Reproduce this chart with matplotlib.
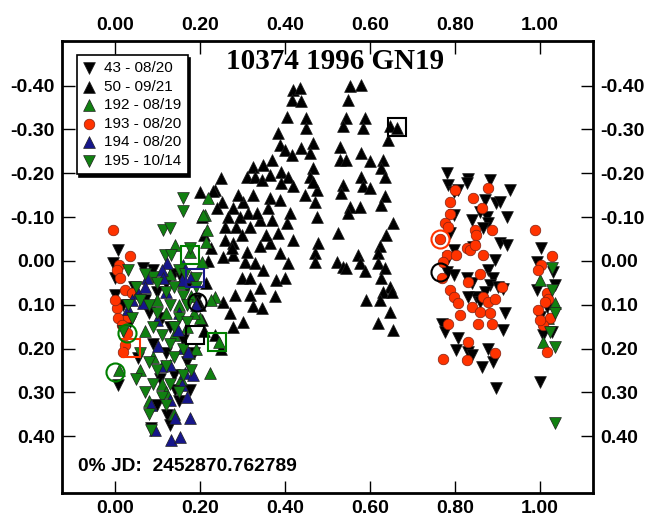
import numpy as np
import matplotlib.pyplot as plt
from matplotlib.ticker import FixedLocator, FormatStrFormatter

# session 43 - 08/20 (black, down triangles)
ph43 = [0.781, 0.832, 0.883, 0.930, 0.785, 0.797, 0.808, 0.828, 0.871, 0.898, 0.906, 0.859,
        0.875, 0.922, 0.879, 0.840, 0.867, 0.797, 0.789, 0.906, 0.922, 0.797, 0.785, 0.844,
        0.895, 0.879, 0.781, 0.797, 0.828, 0.840, 0.891, 0.883, 0.871, 0.902, 0.851, 0.859,
        0.832, 0.914, 0.918, 0.914, 0.769, 0.777, 0.808, 0.804, 0.832, 0.840, 0.879, 0.891,
        0.863, 0.898, 1.000, 1.004, 0.993, 1.032, 0.993, 1.036, 1.016, 1.000, 1.028, 1.008,
        0.008, -0.004, 0.000, 0.000, 0.020, 0.067, 0.090, 0.045, 0.070, 0.100, 0.120, 0.140,
        0.155, 0.170, 0.190, 0.080, 0.110, 0.130, 0.055, 0.090, 0.160, 0.140, 0.177, 0.141,
        0.150, 0.008, 0.122, 0.129, 0.086, 0.100, 0.170, 0.185, 0.035, 0.120, 0.105]
mag43 = [-0.200, -0.188, -0.185, -0.162, -0.173, -0.158, -0.162, -0.177, -0.139, -0.131, -0.135, -0.112,
         -0.101, -0.101, -0.086, -0.093, -0.074, -0.105, -0.063, -0.040, -0.036, -0.025, -0.006, -0.032,
         -0.002, 0.021, 0.025, 0.032, 0.040, 0.051, 0.040, 0.055, 0.070, 0.059, 0.082, 0.093,
         0.082, 0.063, 0.120, 0.158, 0.143, 0.162, 0.177, 0.204, 0.207, 0.215, 0.200, 0.230,
         0.242, 0.291, 0.276, -0.029, 0.002, 0.025, 0.067, 0.055, 0.105, 0.128, 0.162, 0.169,
         -0.025, 0.005, 0.040, 0.077, 0.100, 0.017, 0.020, 0.060, 0.090, 0.070, 0.050, 0.030,
         0.040, 0.060, 0.090, 0.120, 0.130, 0.150, 0.222, 0.190, 0.180, 0.260, 0.294, 0.294,
         0.320, 0.283, 0.351, 0.374, 0.382, 0.330, 0.230, 0.210, 0.140, 0.210, 0.270]

# session 50 - 09/21 (black, up triangles)
ph50 = [0.420, 0.435, 0.416, 0.439, 0.404, 0.449, 0.449, 0.384, 0.388, 0.400, 0.416, 0.439,
        0.467, 0.459, 0.467, 0.459, 0.325, 0.349, 0.369, 0.310, 0.329, 0.345, 0.365, 0.392,
        0.408, 0.392, 0.420, 0.249, 0.235, 0.251, 0.325, 0.302, 0.278, 0.267, 0.294, 0.314,
        0.365, 0.388, 0.361, 0.341, 0.369, 0.412, 0.404, 0.384, 0.365, 0.341, 0.318, 0.286,
        0.259, 0.259, 0.278, 0.255, 0.278, 0.306, 0.329, 0.349, 0.298, 0.318, 0.388, 0.420,
        0.408, 0.380, 0.400, 0.376, 0.341, 0.282, 0.318, 0.325, 0.345, 0.255, 0.271, 0.278,
        0.302, 0.475, 0.471, 0.475, 0.467, 0.478, 0.471, 0.471, 0.447,
        0.553, 0.580, 0.549, 0.545, 0.537, 0.588, 0.584, 0.529, 0.529, 0.545, 0.580, 0.600,
        0.631, 0.627, 0.635, 0.580, 0.584, 0.600, 0.537, 0.533, 0.553, 0.576, 0.549, 0.635,
        0.627, 0.655, 0.639, 0.624, 0.620, 0.525, 0.522, 0.537, 0.545, 0.573, 0.576, 0.588,
        0.620, 0.635, 0.627, 0.647, 0.631, 0.651, 0.592, 0.624, 0.647, 0.620, 0.655,
        0.647, 0.663, 0.643,
        0.205, 0.210, 0.200, 0.215, 0.220, 0.225, 0.210, 0.205, 0.200, 0.230, 0.240, 0.250,
        0.235, 0.193, 0.300, 0.335, 0.355, 0.290, 0.310, 0.275]
mag50 = [-0.390, -0.394, -0.368, -0.364, -0.329, -0.326, -0.303, -0.291, -0.265, -0.253, -0.242, -0.257,
         -0.269, -0.246, -0.212, -0.192, -0.215, -0.219, -0.231, -0.192, -0.192, -0.185, -0.196, -0.204,
         -0.192, -0.177, -0.170, -0.189, -0.162, -0.135, -0.151, -0.135, -0.120, -0.101, -0.101, -0.109,
         -0.143, -0.139, -0.120, -0.094, -0.094, -0.109, -0.086, -0.063, -0.040, -0.033, -0.078, -0.078,
         -0.078, -0.048, -0.040, -0.010, -0.014, 0.002, 0.005, 0.021, 0.040, 0.040, -0.017, -0.048,
         0.005, 0.043, 0.040, 0.081, 0.062, 0.078, 0.078, 0.104, 0.108, 0.093, 0.120, 0.150,
         0.139, -0.101, -0.135, -0.162, -0.181, -0.040, -0.017, 0.002, -0.151,
         -0.398, -0.402, -0.368, -0.326, -0.307, -0.326, -0.303, -0.261, -0.231, -0.231, -0.246, -0.227,
         -0.231, -0.212, -0.192, -0.192, -0.170, -0.166, -0.173, -0.154, -0.124, -0.124, -0.109, -0.147,
         -0.128, -0.086, -0.059, -0.033, -0.017, -0.063, 0.002, 0.013, 0.017, -0.014, 0.005, 0.024,
         0.005, 0.017, 0.040, 0.059, 0.070, 0.070, 0.089, 0.089, 0.116, 0.142, 0.158,
         -0.307, -0.303, -0.276,
         0.135, 0.160, 0.100, 0.050, 0.000, -0.030, -0.060, -0.100, -0.158, -0.160, -0.120, 0.200,
         0.170, 0.094, -0.060, -0.110, -0.060, -0.150, -0.020, -0.030]

# session 192 - 08/19 (green, up triangles)
ph192 = [0.220, 0.212, 0.217, 0.214, 0.204, 0.235, 0.227, 0.208, 0.141, 0.010, 0.245, 0.130,
         0.160, 0.100, 0.120, 0.150, 0.180, 0.070, 0.090, 0.140, 0.170, 0.060, 0.200, 0.185,
         0.110, 0.155, 0.175, 0.080, 0.120, 0.140, 0.190, 0.224, 0.176,
         1.000, 1.008, 1.036, 1.020]
mag192 = [-0.143, -0.105, -0.071, -0.044, 0.002, 0.082, 0.089, -0.105, -0.037, 0.250, 0.185, 0.030,
          0.050, 0.090, 0.120, 0.100, 0.080, 0.160, 0.220, 0.170, 0.150, 0.250, 0.130, 0.120,
          0.280, 0.270, 0.210, 0.320, 0.300, 0.350, 0.200, 0.256, -0.020,
          0.044, 0.185, 0.097, 0.130]

# session 193 - 08/20 (red circles)
ph193 = [0.800, 0.789, 0.844, 0.879, 0.863, 0.789, 0.777, 0.785, 0.847, 0.851, 0.887, 0.765,
         0.781, 0.773, 0.804, 0.828, 0.836, 0.847, 0.867, 0.769, 0.859, 0.832, 0.789, 0.797,
         0.808, 0.840, 0.867, 0.879, 0.895, 0.859, 0.883, 0.855, 0.887, 0.812, 0.785, 0.910,
         0.832, 0.895, 0.773, 0.828,
         0.989, 1.028, 1.004, 0.997, 1.016, 1.020, 1.012, 0.997, 1.024, 1.008, 1.016, 1.000,
         -0.004, 0.035, 0.009, 0.004, 0.024, 0.040, 0.004, 0.008, 0.031, 0.016, 0.024, 0.020,
         0.028, 0.012, 0.000]
mag193 = [-0.162, -0.135, -0.143, -0.166, -0.120, -0.108, -0.086, -0.078, -0.070, -0.059, -0.070, -0.051,
          -0.013, 0.002, -0.013, -0.029, -0.025, -0.036, -0.013, 0.040, 0.029, 0.048, 0.067, 0.082,
          0.097, 0.105, 0.082, 0.093, 0.086, 0.116, 0.120, 0.143, 0.143, 0.124, 0.143, 0.059,
          0.185, 0.211, 0.223, 0.226,
          -0.070, -0.011, 0.010, 0.021, 0.074, 0.086, 0.093, 0.112, 0.131, 0.147, 0.207, 0.135,
          -0.071, -0.012, 0.009, 0.020, 0.066, 0.074, 0.108, 0.131, 0.127, 0.146, 0.192, 0.207,
          0.165, 0.040, 0.090]

# session 194 - 08/20 (blue, up triangles)
ph194 = [0.067, 0.098, 0.149, 0.102, 0.161, 0.173, 0.129, 0.165, 0.184, 0.157, 0.086, 0.129,
         0.141, 0.177, 0.094, 0.133, 0.153, 0.122, 0.110, 0.075, 0.114, 0.157, 0.180, 0.055,
         0.030, 0.040, 0.070, 0.160, 0.120, 0.190, 0.150, 0.110, 0.170]
mag194 = [0.096, 0.134, 0.157, 0.195, 0.199, 0.207, 0.237, 0.256, 0.260, 0.283, 0.329, 0.317,
          0.359, 0.359, 0.386, 0.408, 0.401, 0.005, 0.020, 0.040, 0.040, 0.043, 0.036, 0.074,
          0.110, 0.090, 0.060, 0.010, 0.070, 0.100, 0.120, 0.240, 0.310]

# session 195 - 10/14 (green, down triangles)
ph195 = [0.161, 0.161, 0.114, 0.129, 0.118, 0.133, 0.177, 0.031, 0.090, 0.070, 0.150, 0.165,
         0.190, 0.050, 0.100, 0.120, 0.140, 0.160, 0.170, 0.060, 0.080, 0.130, 0.150, 0.170,
         0.020, 0.090, 0.110, 0.130, 0.060, 0.080, 0.100, 0.120, 0.140, 0.160, 0.050, 0.070,
         0.090, 0.110, 0.130, 0.150, 0.080, 0.085, 0.120, 0.160, 0.180, 0.140, 0.190, 0.040,
         0.030, 0.100,
         1.028, 1.028, 1.036, 1.024, 1.036, 1.035]
mag195 = [-0.143, -0.113, -0.071, -0.075, -0.014, -0.014, -0.029, 0.020, 0.036, 0.030, 0.020, 0.030,
          0.040, 0.060, 0.050, 0.070, 0.060, 0.080, 0.100, 0.090, 0.100, 0.100, 0.130, 0.140,
          0.160, 0.150, 0.170, 0.190, 0.210, 0.230, 0.250, 0.240, 0.220, 0.200, 0.270, 0.300,
          0.280, 0.310, 0.280, 0.300, 0.350, 0.385, 0.330, 0.260, 0.250, 0.150, 0.060, 0.130,
          0.100, 0.120,
          0.017, 0.067, 0.120, 0.162, 0.196, 0.370]

# first-point highlights: (phase, mag, colour, shape)
hl_ph = [0.664, 0.188, 0.193, 0.765, 0.765, 0.038, 0.028, 0.000, 0.240, 0.176, 0.188]
hl_mag = [-0.306, 0.169, 0.094, 0.025, -0.051, 0.199, 0.164, 0.253, 0.185, -0.014, 0.039]
hl_col = ['black', 'black', 'black', 'black', '#ff3300', '#ff3300', 'green', 'green', 'green', 'green', '#1a1a8c']
hl_shape = ['s', 's', 'o', 'o', 'o', 's', 'o', 'o', 's', 's', 's']

labels = ['43 - 08/20', '50 - 09/21', '192 - 08/19', '193 - 08/20', '194 - 08/20', '195 - 10/14']

plt.rcParams['font.family'] = ['Liberation Sans', 'DejaVu Sans']

fig = plt.figure(figsize=(6.58, 5.18), dpi=100)
ax = fig.add_axes([0.094, 0.048, 0.807, 0.873])

kw = dict(s=72, edgecolors='#202020', linewidths=0.5)
ax.scatter(ph43, mag43, marker='v', c='black', label=labels[0], **kw)
ax.scatter(ph50, mag50, marker='^', c='black', label=labels[1], **kw)
ax.scatter(ph192, mag192, marker='^', c='#118011', label=labels[2], **kw)
ax.scatter(ph193, mag193, marker='o', c='#ff3300', label=labels[3], s=58, edgecolors='#802010', linewidths=0.5)
ax.scatter(ph194, mag194, marker='^', c='#16168a', label=labels[4], **kw)
ax.scatter(ph195, mag195, marker='v', c='#118011', label=labels[5], **kw)

for x, y, col, m in zip(hl_ph, hl_mag, hl_col, hl_shape):
    ax.plot(x, y, marker=m, ms=13, mfc='none', mec=col, mew=1.5, ls='none')

ax.set_xlim(-0.125, 1.125)
ax.set_ylim(0.53, -0.502)
ax.xaxis.set_major_locator(FixedLocator([0.0, 0.2, 0.4, 0.6, 0.8, 1.0]))
ax.yaxis.set_major_locator(FixedLocator([-0.4, -0.3, -0.2, -0.1, 0.0, 0.1, 0.2, 0.3, 0.4]))
ax.xaxis.set_major_formatter(FormatStrFormatter('%.2f'))
ax.yaxis.set_major_formatter(FormatStrFormatter('%.2f'))
ax.tick_params(direction='in', length=9, width=1, top=True, right=True,
               labeltop=True, labelright=True, labelsize=14, pad=5)
for tk in ax.xaxis.get_major_ticks() + ax.yaxis.get_major_ticks():
    tk.label1.set_fontweight('bold')
    tk.label2.set_fontweight('bold')
for sp in ax.spines.values():
    sp.set_linewidth(2)

ax.text(0.514, 0.955, '10374 1996 GN19', transform=ax.transAxes, ha='center', va='center',
        fontsize=21, fontweight='bold', family=['Liberation Serif', 'DejaVu Serif'])
ax.text(0.03, 0.058, '0% JD:  2452870.762789', transform=ax.transAxes, ha='left', va='center',
        fontsize=13.8, fontweight='bold')

leg = ax.legend(loc='upper left', bbox_to_anchor=(0.028, 0.969), borderaxespad=0,
                fancybox=False, shadow={'color': 'black', 'alpha': 1}, edgecolor='black',
                framealpha=1, fontsize=11, handlelength=0.8, handletextpad=0.6,
                labelspacing=0.3, borderpad=0.4, scatterpoints=1)
leg.get_frame().set_linewidth(1.2)

fig.savefig('out.png', dpi=100)
